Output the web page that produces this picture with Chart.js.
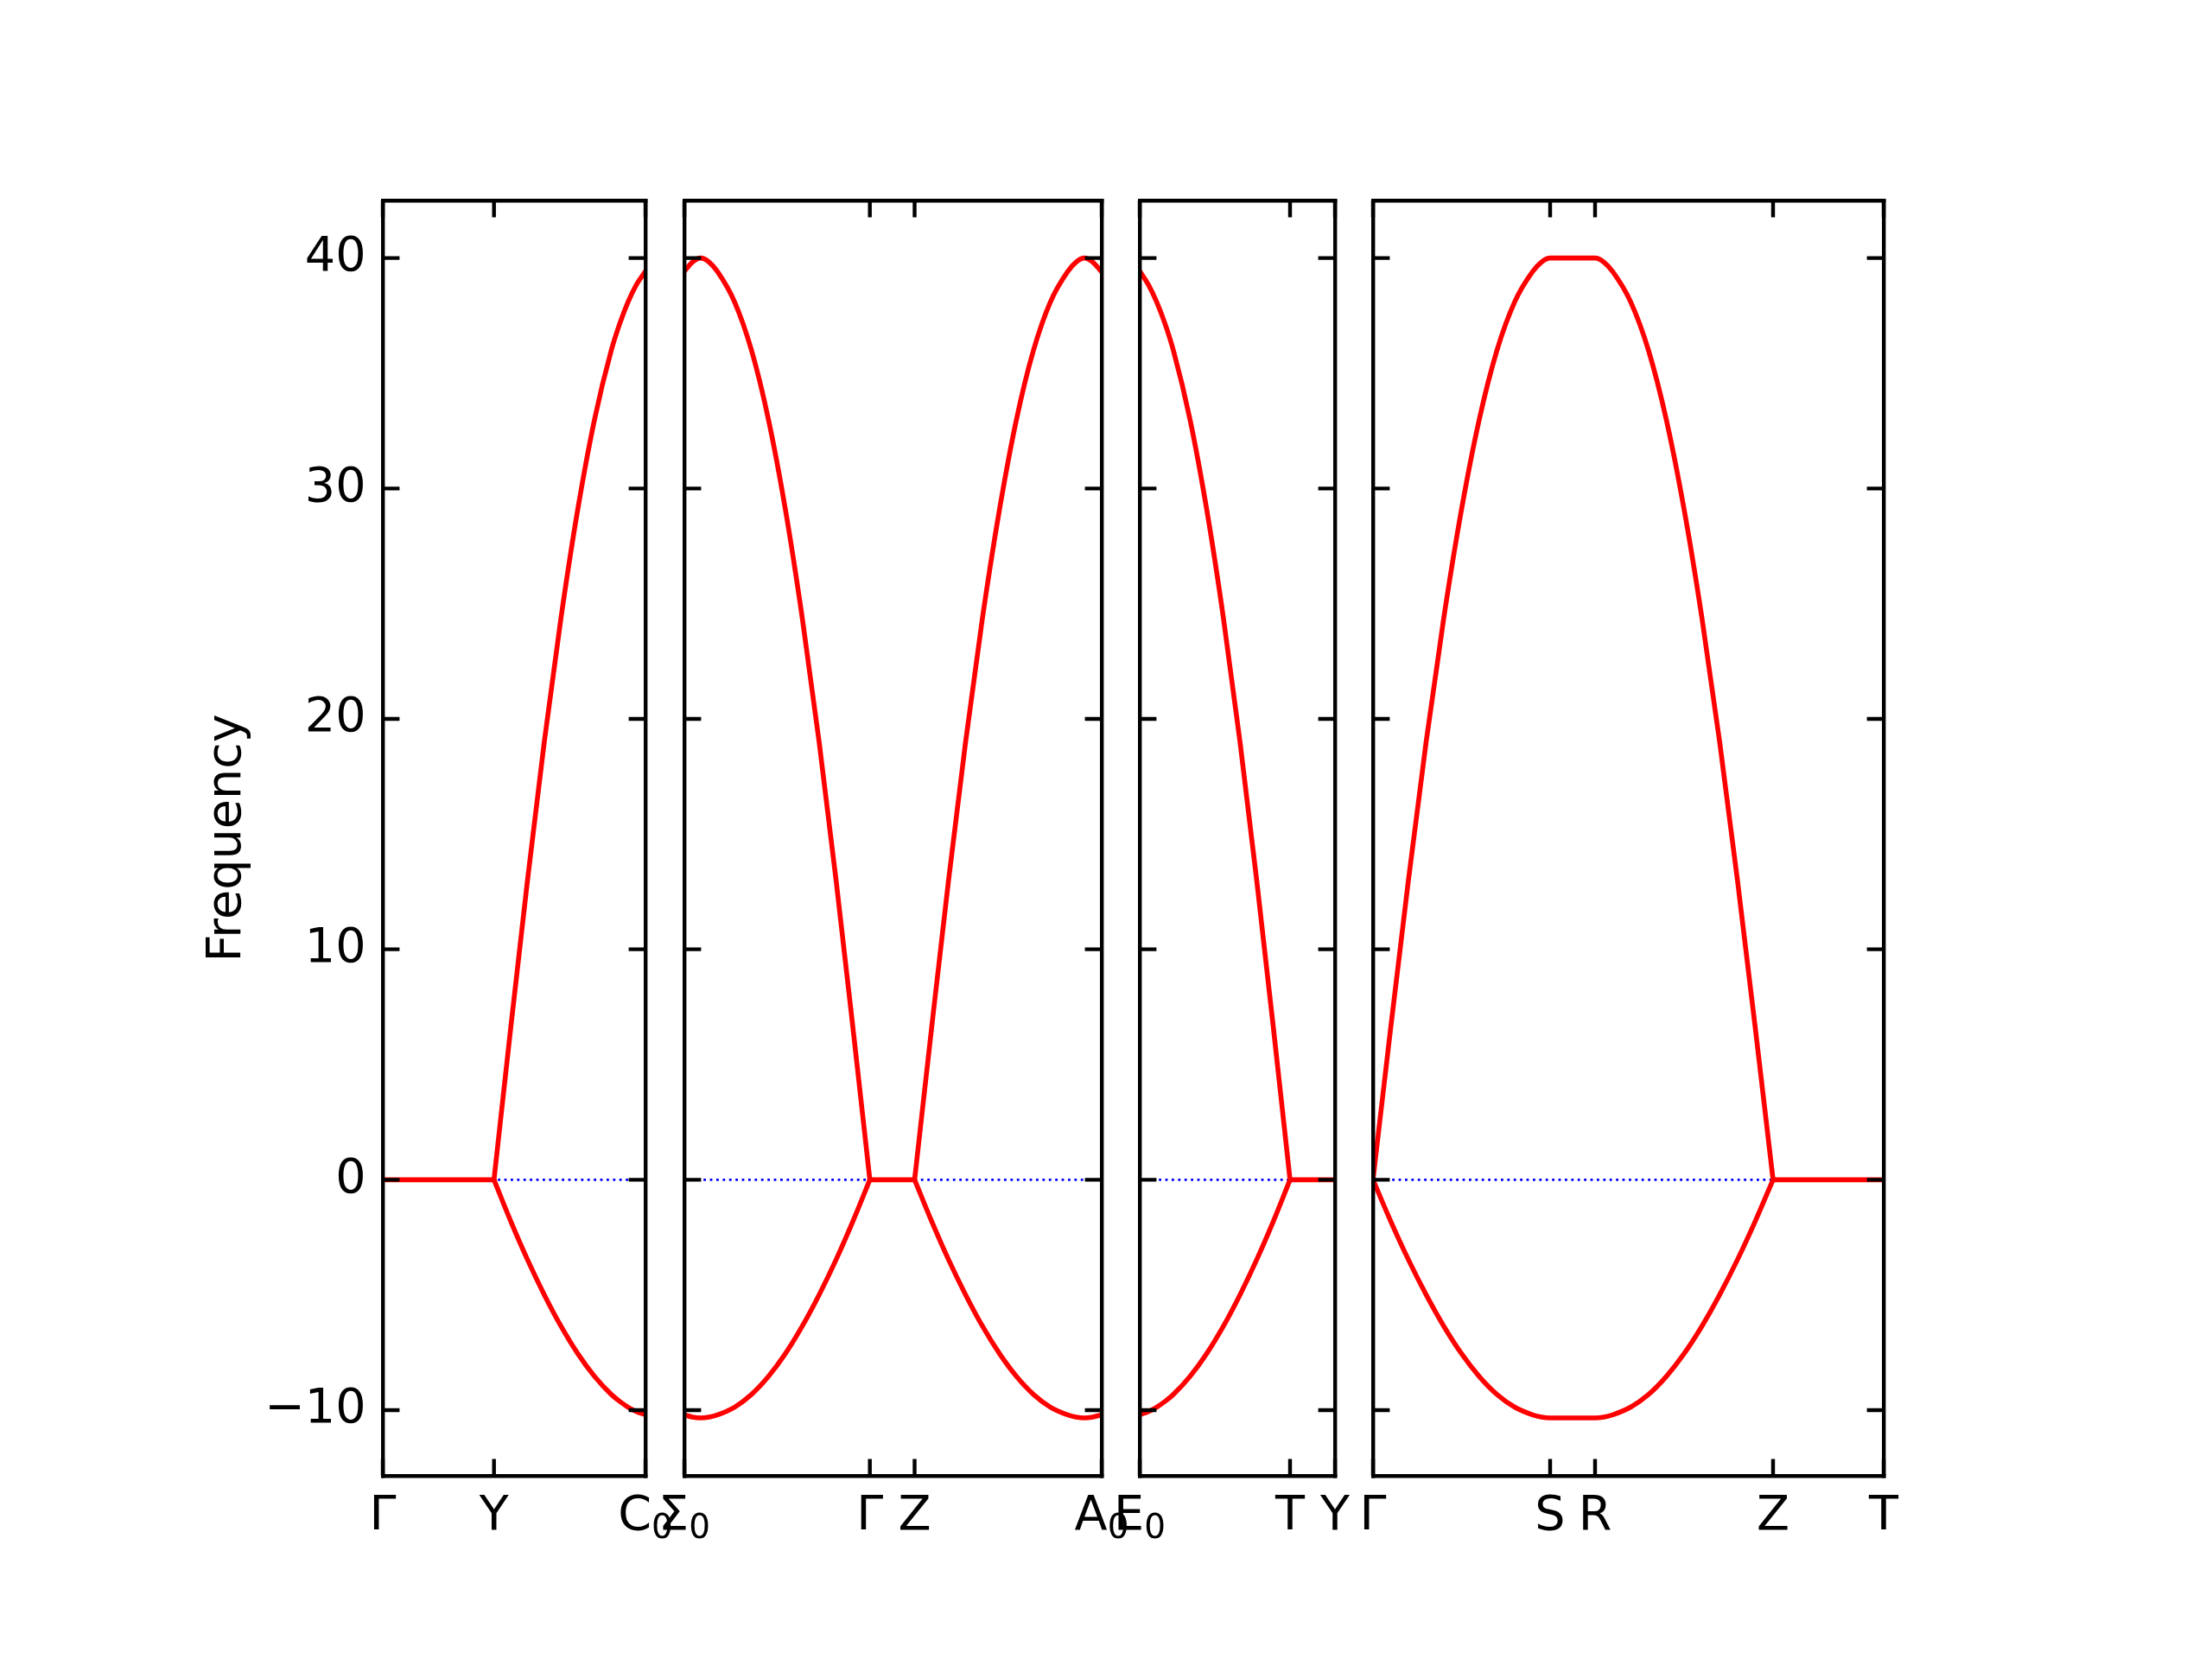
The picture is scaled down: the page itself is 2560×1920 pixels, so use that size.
<!DOCTYPE html>
<html>
<head>
<meta charset="utf-8">
<title>Frequency</title>
<script src="https://cdn.jsdelivr.net/npm/chart.js@4.4.1/dist/chart.umd.min.js"></script>
<style>
  html, body { margin: 0; padding: 0; background: #fff; }
  #wrap { position: relative; width: 2560px; height: 1920px; }
  #wrap canvas { position: absolute; left: 0; top: 0; }
</style>
</head>
<body>
<div id="wrap">
  <canvas id="p1" width="2560" height="1920"></canvas>
  <canvas id="p2" width="2560" height="1920"></canvas>
  <canvas id="p3" width="2560" height="1920"></canvas>
  <canvas id="p4" width="2560" height="1920"></canvas>
</div>
<script>
// ------ Data: path coordinate (x), upper and lower band frequency ------
const yTicks = [-10, 0, 10, 20, 30, 40];

// panel 1: Γ - Y - C0   ('_' marks a subscript)
const p1Ticks = [0, 1.287, 3.04];
const p1Labels = ['Γ', 'Y', 'C_0'];
const p1FlatX = [0, 1.287];
const p1FlatY = [0, 0];
const p1X = [1.287, 1.481, 1.675, 1.869, 2.063, 2.257, 2.451, 2.645, 2.742, 2.839, 2.936, 3.04];
const p1Up = [0, 6.6, 13.0, 19.0, 24.4, 29.1, 33.0, 36.0, 37.15, 38.1, 38.85, 39.43];
const p1Lo = [0, -1.8, -3.47, -4.99, -6.36, -7.55, -8.54, -9.32, -9.62, -9.87, -10.06, -10.2];

// panel 2: Σ0 - Γ - Z - A0
const p2Ticks = [3.04, 5.187, 5.705, 7.87];
const p2Labels = ['Σ_0', 'Γ', 'Z', 'A_0'];
const p2AX = [3.04, 3.132, 3.23, 3.328, 3.426, 3.621, 3.817, 4.013, 4.209, 4.404, 4.6, 4.796, 4.991, 5.187];
const p2AUp = [39.42, 39.82, 40, 39.82, 39.4, 38.1, 36.0, 33.0, 29.1, 24.4, 19.0, 13.0, 6.6, 0];
const p2ALo = [-10.2, -10.3, -10.34, -10.3, -10.2, -9.87, -9.32, -8.54, -7.55, -6.36, -4.99, -3.47, -1.8, 0];
const p2FlatX = [5.187, 5.705];
const p2FlatY = [0, 0];
const p2BX = [5.705, 5.902, 6.098, 6.295, 6.491, 6.688, 6.884, 7.081, 7.277, 7.474, 7.572, 7.67, 7.768, 7.87];
const p2BUp = [0, 6.6, 13.0, 19.0, 24.4, 29.1, 33.0, 36.0, 38.1, 39.4, 39.82, 40, 39.82, 39.4];
const p2BLo = [0, -1.8, -3.47, -4.99, -6.36, -7.55, -8.54, -9.32, -9.87, -10.2, -10.3, -10.34, -10.3, -10.2];

// panel 3: E0 - T - Y
const p3Ticks = [7.87, 9.61, 10.13];
const p3Labels = ['E_0', 'T', 'Y'];
const p3X = [7.87, 7.97, 8.066, 8.163, 8.259, 8.452, 8.645, 8.838, 9.031, 9.224, 9.417, 9.61];
const p3Up = [39.43, 38.85, 38.1, 37.15, 36.0, 33.0, 29.1, 24.4, 19.0, 13.0, 6.6, 0];
const p3Lo = [-10.2, -10.06, -9.87, -9.62, -9.32, -8.54, -7.55, -6.36, -4.99, -3.47, -1.8, 0];
const p3FlatX = [9.61, 10.13];
const p3FlatY = [0, 0];

// panel 4: Γ - S - R - Z - T
const p4Ticks = [10.13, 12.18, 12.7, 14.76, 16.04];
const p4Labels = ['Γ', 'S', 'R', 'Z', 'T'];
const p4X = [10.13, 10.335, 10.54, 10.745, 10.95, 11.155, 11.36, 11.565, 11.77, 11.975, 12.078, 12.18,
             12.7, 12.803, 12.906, 13.112, 13.318, 13.524, 13.73, 13.936, 14.142, 14.348, 14.554, 14.76];
const p4Up = [0, 6.6, 13.0, 19.0, 24.4, 29.1, 33.0, 36.0, 38.1, 39.4, 39.82, 40,
              40, 39.82, 39.4, 38.1, 36.0, 33.0, 29.1, 24.4, 19.0, 13.0, 6.6, 0];
const p4Lo = [0, -1.8, -3.47, -4.99, -6.36, -7.55, -8.54, -9.32, -9.87, -10.2, -10.3, -10.34,
              -10.34, -10.3, -10.2, -9.87, -9.32, -8.54, -7.55, -6.36, -4.99, -3.47, -1.8, 0];
const p4FlatX = [14.76, 16.04];
const p4FlatY = [0, 0];

const yMin = -12.85, yMax = 42.5;

// ------ Styles / layout ------
const FONT = { family: 'DejaVu Sans', size: 55.6 };
const AXIS_W = 4.4;
const TICK_LEN = 19.4;
const PLOT_TOP = 232, PLOT_BOTTOM = 1708;
const LABEL_BASE = 62;   // tick label baseline below the axis
const SUB_DROP = 10;     // subscript baseline shift

Chart.defaults.font.family = FONT.family;
Chart.defaults.color = '#000';

function pts(xs, ys) { return xs.map((x, i) => ({ x, y: ys[i] })); }

function band(xs, ys) {
  return {
    data: pts(xs, ys),
    xAxisID: 'x', yAxisID: 'y',
    borderColor: '#ff0000',
    borderWidth: 5.6,
    borderCapStyle: 'round',
    borderJoinStyle: 'round',
    cubicInterpolationMode: 'monotone',
    pointRadius: 0,
    fill: false,
    order: 0
  };
}

function zeroLine(min, max) {
  return {
    data: [{ x: min, y: 0 }, { x: max, y: 0 }],
    xAxisID: 'x', yAxisID: 'y',
    borderColor: '#0000ff',
    borderWidth: 2.8,
    borderDash: [2.8, 4.6],
    pointRadius: 0,
    fill: false,
    order: 1
  };
}

// matplotlib-style ticks pointing into the plot on all four sides
const inwardTicks = {
  id: 'inwardTicks',
  afterDatasetsDraw(chart) {
    const { ctx, chartArea: a, scales: { x, y } } = chart;
    ctx.save();
    ctx.strokeStyle = '#000';
    ctx.lineWidth = AXIS_W;
    ctx.beginPath();
    x.ticks.forEach(t => {
      const px = x.getPixelForValue(t.value);
      ctx.moveTo(px, a.bottom); ctx.lineTo(px, a.bottom - TICK_LEN);
      ctx.moveTo(px, a.top); ctx.lineTo(px, a.top + TICK_LEN);
    });
    y.ticks.forEach(t => {
      const py = y.getPixelForValue(t.value);
      ctx.moveTo(a.left, py); ctx.lineTo(a.left + TICK_LEN, py);
      ctx.moveTo(a.right, py); ctx.lineTo(a.right - TICK_LEN, py);
    });
    ctx.stroke();
    ctx.restore();
  }
};

// x tick labels with a smaller, lowered subscript (e.g. C_0)
const subLabels = {
  id: 'subLabels',
  afterDraw(chart, args, opts) {
    const { ctx, chartArea: a, scales: { x } } = chart;
    const mainFont = `${FONT.size}px "${FONT.family}"`;
    const subFont = `${FONT.size * 0.7}px "${FONT.family}"`;
    const base = a.bottom + LABEL_BASE;
    ctx.save();
    ctx.fillStyle = '#000';
    ctx.textAlign = 'left';
    ctx.textBaseline = 'alphabetic';
    x.ticks.forEach((t, i) => {
      const [main, sub] = opts.labels[i].split('_');
      ctx.font = mainFont;
      const wm = ctx.measureText(main).width;
      let ws = 0;
      if (sub) { ctx.font = subFont; ws = ctx.measureText(sub).width; }
      const x0 = x.getPixelForValue(t.value) - (wm + ws) / 2;
      ctx.font = mainFont;
      ctx.fillText(main, x0, base);
      if (sub) { ctx.font = subFont; ctx.fillText(sub, x0 + wm, base + SUB_DROP); }
    });
    ctx.restore();
  }
};

const border = { display: true, color: '#000', width: AXIS_W, z: 1 };
const noGrid = { display: false, drawTicks: false, lineWidth: AXIS_W };

function makePanel(id, left, right, range, tickPos, tickLabels, datasets, first) {
  new Chart(document.getElementById(id), {
    type: 'line',
    data: { datasets },
    plugins: [inwardTicks, subLabels],
    options: {
      responsive: false,
      animation: false,
      devicePixelRatio: 1,
      events: [],
      layout: {
        padding: {
          left: first ? 200 : left,
          right: 2560 - right,
          top: PLOT_TOP,
          bottom: 1920 - PLOT_BOTTOM
        }
      },
      plugins: {
        legend: { display: false },
        tooltip: { enabled: false },
        subLabels: { labels: tickLabels }
      },
      scales: {
        x: {
          type: 'linear', position: 'bottom',
          min: range[0], max: range[1],
          grid: noGrid, border,
          afterBuildTicks: s => { s.ticks = tickPos.map(v => ({ value: v })); },
          afterFit: s => { s.height = 0; },
          ticks: { display: false, autoSkip: false }
        },
        y: {
          type: 'linear', position: 'left',
          min: yMin, max: yMax,
          grid: noGrid, border,
          afterBuildTicks: s => { s.ticks = yTicks.map(v => ({ value: v })); },
          afterFit: s => { s.width = first ? left - 200 : 0; },
          title: {
            display: first, text: 'Frequency', font: FONT, color: '#000',
            padding: { top: 30, bottom: 0 }
          },
          ticks: {
            display: first, padding: 19.4, font: FONT, color: '#000',
            callback: v => (v < 0 ? '\u2212' + (-v) : String(v))
          }
        },
        x2: {
          type: 'linear', axis: 'x', position: 'top',
          min: range[0], max: range[1],
          grid: noGrid, border,
          ticks: { display: false },
          afterFit: s => { s.height = 0; }
        },
        y2: {
          type: 'linear', axis: 'y', position: 'right',
          min: yMin, max: yMax,
          grid: noGrid, border,
          ticks: { display: false },
          afterFit: s => { s.width = 0; }
        }
      }
    }
  });
}

// ------ Panels ------
makePanel('p1', 443, 747, [0, 3.04], p1Ticks, p1Labels, [
  band(p1FlatX, p1FlatY),
  band(p1X, p1Up),
  band(p1X, p1Lo),
  zeroLine(0, 3.04)
], true);

makePanel('p2', 792, 1275, [3.04, 7.87], p2Ticks, p2Labels, [
  band(p2AX, p2AUp),
  band(p2AX, p2ALo),
  band(p2FlatX, p2FlatY),
  band(p2BX, p2BUp),
  band(p2BX, p2BLo),
  zeroLine(3.04, 7.87)
], false);

makePanel('p3', 1319, 1545, [7.87, 10.13], p3Ticks, p3Labels, [
  band(p3X, p3Up),
  band(p3X, p3Lo),
  band(p3FlatX, p3FlatY),
  zeroLine(7.87, 10.13)
], false);

makePanel('p4', 1589, 2180, [10.13, 16.04], p4Ticks, p4Labels, [
  band(p4X, p4Up),
  band(p4X, p4Lo),
  band(p4FlatX, p4FlatY),
  zeroLine(10.13, 16.04)
], false);
</script>
</body>
</html>
